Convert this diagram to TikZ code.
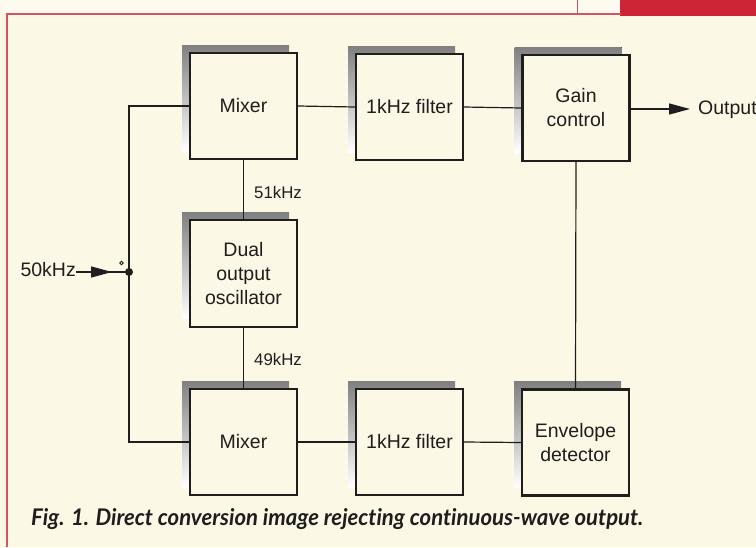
\documentclass[tikz,border=0pt]{standalone}
\usepackage{fontspec}
\usepackage{graphicx}
\setmainfont{Liberation Sans}
\newfontfamily\capfont[Ligatures=NoCommon]{Lato}
\usetikzlibrary{arrows.meta,calc}
\definecolor{paper}{RGB}{252,248,230}
\definecolor{toppaper}{RGB}{253,251,240}
\definecolor{framered}{RGB}{212,84,100}
\definecolor{blockred}{RGB}{204,38,54}
\definecolor{ink}{RGB}{30,30,30}
\definecolor{shade}{RGB}{208,207,200}
\tikzset{
  blockbox/.style={draw=ink, line width=2.3pt, fill=paper, minimum width=107pt, minimum height=106pt,
    inner sep=0pt, align=center, font=\fontsize{19.5}{24}\selectfont, text=ink},
  wire/.style={draw=ink, line width=1.2pt},
  lbl/.style={font=\fontsize{16.8}{18}\selectfont, text=ink, inner sep=0pt},
  iolbl/.style={font=\fontsize{19.5}{22}\selectfont, text=ink, inner sep=0pt},
  tipstyle/.style={-{Triangle[length=21pt,width=11pt]}}
}
\begin{document}
\begin{tikzpicture}[x=1pt,y=-1pt]
\useasboundingbox (0,0) rectangle (756,547);
\fill[paper] (0,0) rectangle (756,547);
\fill[toppaper] (0,0) rectangle (620,14);
\fill[blockred] (620,0) rectangle (756,16);
\draw[framered, line width=0.8pt] (577,0) -- (577,14);
\draw[framered, line width=2pt] (7,547) -- (7,14) -- (621,14);

\path (243.5,106) coordinate (c1) (409.5,107) coordinate (c2) (576,108) coordinate (c3)
      (243.5,273.5) coordinate (c4)
      (243.5,442) coordinate (c5) (409.5,442) coordinate (c6) (575.5,442.5) coordinate (c7);
\foreach \c in {c1,c2,c3,c4,c5,c6,c7}{
  \fill[shade] ($(\c)+(-61.5,-61)$) rectangle ($(\c)+(45.5,45)$);
}

\node[blockbox] (m1) at (c1) {Mixer};
\node[blockbox] (f1) at (c2) {1kHz filter};
\node[blockbox] (g)  at (c3) {Gain\\control};
\node[blockbox, minimum height=107pt] (osc) at (c4) {Dual\\output\\oscillator};
\node[blockbox] (m2) at (c5) {Mixer};
\node[blockbox] (f2) at (c6) {1kHz filter};
\node[blockbox] (env) at (c7) {Envelope\\detector};

\draw[wire] (m1.east) -- (f1.west);
\draw[wire] (f1.east) -- (g.west);
\draw[wire] (m2.east) -- (f2.west);
\draw[wire] (f2.east) -- (env.west);
\draw[wire] (g.south) -- (env.north);
\draw[wire] (m1.south) -- (osc.north);
\draw[wire] (osc.south) -- (m2.north);

\coordinate (jn) at (129,272);
\draw[wire] (m1.west) -| (jn) |- (m2.west);
\fill[ink] (jn) circle (4pt);
\draw[ink, line width=0.8pt] (121.5,263) circle (1.7pt);

\node[iolbl, anchor=east] (in) at (76,270) {50kHz};
\coordinate (tipin) at (112,272);
\draw[wire] (in.east |- jn) -- (jn);
\draw[wire, tipstyle] (in.east |- jn) -- (tipin);

\coordinate (outtip) at (690,109);
\draw[wire, tipstyle] (g.east |- outtip) -- (outtip);
\node[iolbl, anchor=west] (out) at (698,110) {Output};

\node[lbl, anchor=west] (l51) at (254,192) {51kHz};
\node[lbl, anchor=west] (l49) at (254,359) {49kHz};

\node[anchor=base west, inner sep=0pt, text=ink] (cap) at (31,525)
  {\resizebox{612pt}{17pt}{\capfont\bfseries\itshape Fig. 1. Direct conversion image rejecting continuous-wave output.}};
\end{tikzpicture}
\end{document}
